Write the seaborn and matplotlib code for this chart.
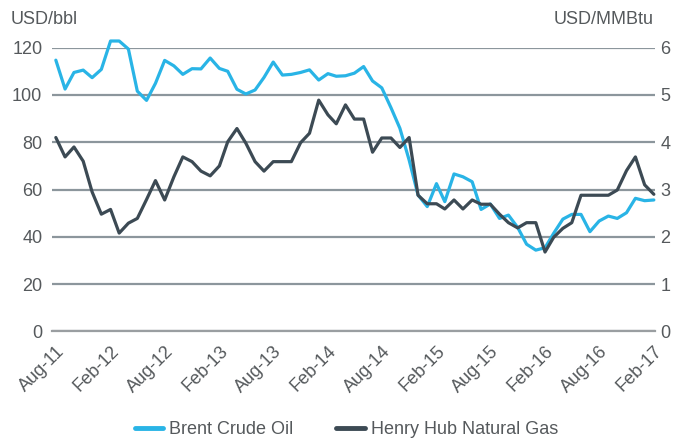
import matplotlib
matplotlib.use("Agg")
import matplotlib.pyplot as plt
import matplotlib.dates as mdates
from matplotlib.lines import Line2D
import seaborn as sns
import pandas as pd

# monthly values, Aug-11 .. Feb-17
START = "2011-08-01"
brent = [114.7, 102.5, 109.5, 110.5, 107.3, 110.8, 122.8, 122.8, 119.4, 101.6,
         97.7, 104.9, 114.6, 112.3, 108.7, 111.1, 111.0, 115.6, 111.2, 110.0,
         102.4, 100.4, 102.1, 107.4, 113.9, 108.4, 108.7, 109.5, 110.6, 106.3,
         109.0, 107.9, 108.1, 109.2, 112.0, 105.9, 103.0, 94.6, 85.9, 72.5,
         57.7, 52.8, 62.5, 54.9, 66.6, 65.4, 63.3, 51.6, 53.9, 47.8,
         49.2, 44.0, 36.9, 34.4, 35.4, 41.5, 47.5, 49.5, 49.5, 42.2,
         46.7, 48.8, 47.8, 50.2, 56.3, 55.3, 55.6]
henry_hub = [4.10, 3.69, 3.90, 3.60, 2.95, 2.48, 2.58, 2.08, 2.29, 2.39,
             2.79, 3.19, 2.78, 3.27, 3.69, 3.59, 3.39, 3.29, 3.50, 4.01,
             4.29, 3.98, 3.59, 3.39, 3.59, 3.59, 3.59, 3.99, 4.19, 4.89,
             4.58, 4.39, 4.79, 4.49, 4.49, 3.79, 4.09, 4.09, 3.89, 4.10,
             2.88, 2.70, 2.70, 2.59, 2.78, 2.59, 2.78, 2.69, 2.69, 2.48,
             2.30, 2.19, 2.30, 2.30, 1.68, 1.99, 2.18, 2.30, 2.88, 2.88,
             2.88, 2.88, 2.99, 3.40, 3.69, 3.10, 2.90]
left_ticks = [0, 20, 40, 60, 80, 100, 120]
right_ticks = [0, 1, 2, 3, 4, 5, 6]

BLUE = "#29b4e6"
DARK = "#3c4a54"
GRID = "#8c969c"
TEXT = "#55595c"

df = pd.DataFrame({
    "date": pd.date_range(START, periods=len(brent), freq="MS"),
    "brent": brent,
    "gas": henry_hub,
})

sns.set_style("white")
plt.rcParams["font.family"] = ["Liberation Sans", "DejaVu Sans"]
plt.rcParams["font.size"] = 13

fig = plt.figure(figsize=(6.75, 4.41), dpi=100)
ax = fig.add_axes([0.077, 0.2483, 0.893, 0.6437])
ax2 = ax.twinx()

sns.lineplot(data=df, x="date", y="brent", ax=ax, color=BLUE, lw=2.3)
sns.lineplot(data=df, x="date", y="gas", ax=ax2, color=DARK, lw=2.3)
for line in ax.lines + ax2.lines:
    line.set_clip_on(False)

ax.set_ylim(0, 120)
ax2.set_ylim(0, 6)
ax.set_yticks(left_ticks)
ax2.set_yticks(right_ticks)
ax.set_xlim(df["date"].iloc[0] - pd.Timedelta(days=13), df["date"].iloc[-1] + pd.Timedelta(days=3))

ax.grid(axis="y", color=GRID, lw=1.6)
ax.set_axisbelow(True)
for a in (ax, ax2):
    for s in ("top", "left", "right"):
        a.spines[s].set_visible(False)
    a.set_xlabel("")
    a.set_ylabel("")
ax.spines["bottom"].set_color("#9a9ea1")
ax.spines["bottom"].set_linewidth(1.6)
ax2.spines["bottom"].set_visible(False)

ax.xaxis.set_major_locator(mdates.MonthLocator(bymonth=[2, 8]))
ax.xaxis.set_major_formatter(mdates.DateFormatter("%b-%y"))
ax.tick_params(axis="x", length=6, width=1.6, color="#9a9ea1", colors=TEXT,
               labelsize=13, pad=2)
plt.setp(ax.get_xticklabels(), rotation=45, ha="right", va="top",
         rotation_mode="anchor")
ax.tick_params(axis="y", length=0, colors=TEXT, labelsize=13, pad=7)
ax2.tick_params(axis="y", length=0, colors=TEXT, labelsize=13, pad=4)

fig.text(0.016, 0.945, "USD/bbl", color=TEXT, fontsize=13, ha="left", va="baseline")
fig.text(0.968, 0.945, "USD/MMBtu", color=TEXT, fontsize=13, ha="right", va="baseline")

handles = [Line2D([], [], color=BLUE, lw=3.5), Line2D([], [], color=DARK, lw=3.5)]
fig.legend(handles, ["Brent Crude Oil", "Henry Hub Natural Gas"], loc="lower center",
           bbox_to_anchor=(0.513, -0.03), ncol=2, frameon=False, fontsize=13,
           labelcolor=TEXT, handlelength=1.6, handletextpad=0.3, columnspacing=2.4)

fig.savefig("out.png", dpi=100)
